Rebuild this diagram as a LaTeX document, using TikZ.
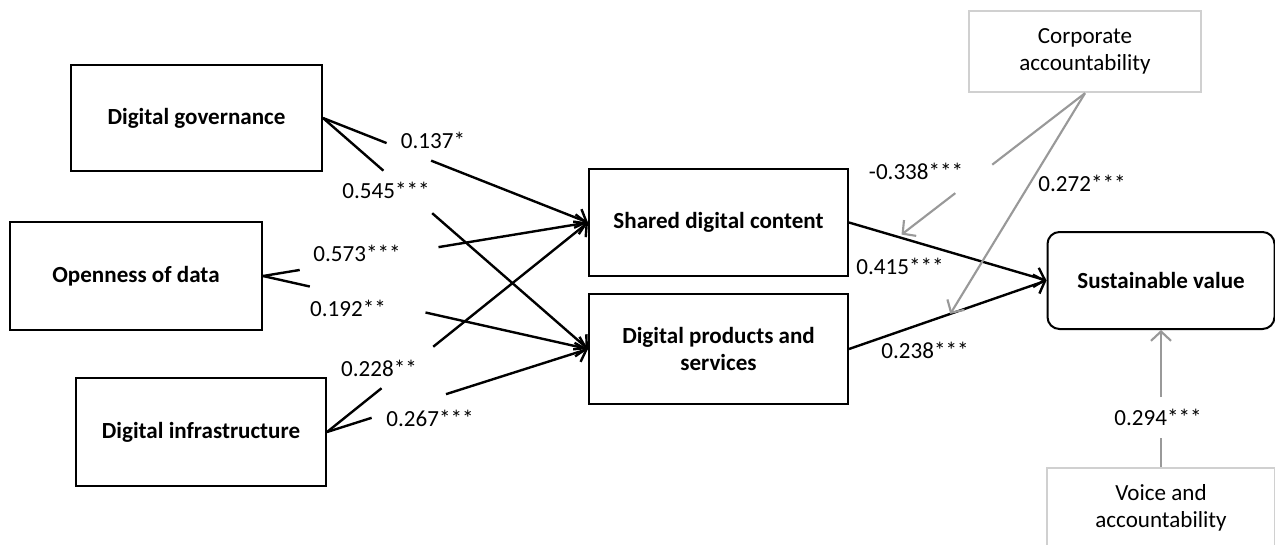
\documentclass[tikz,border=0pt]{standalone}
\usepackage{fontspec}
\setmainfont{Carlito}
\usetikzlibrary{arrows.meta}
\definecolor{boxgray}{HTML}{D0D0D0}
\definecolor{arrowgray}{HTML}{999999}
\begin{document}
\begin{tikzpicture}[x=0.75pt,y=-0.75pt,
  every node/.style={font=\fontsize{17.3}{20.5}\selectfont, inner sep=0pt},
  mainbox/.style={draw=black, line width=1.5pt, align=center, font=\fontsize{17.3}{20.5}\selectfont\bfseries},
  graybox/.style={draw=boxgray, line width=1.8pt, align=center, fill=white},
  blackline/.style={draw=black, line width=1.8pt},
  grayline/.style={draw=arrowgray, line width=1.6pt},
  arrowtip/.style={-{Straight Barb[length=7pt,width=15pt]}},
  coef/.style={font=\fontsize{17.3}{20}\selectfont}
]
\useasboundingbox (0,0) rectangle (1275,544);
\clip (0,0) rectangle (1275,544);

% boxes
\node[mainbox, minimum width=188.25pt, minimum height=79.5pt] (DG) at (196.5,118) {Digital governance};
\node[mainbox, minimum width=189pt, minimum height=81pt] (OD) at (136,276) {Openness of data};
\node[mainbox, minimum width=187.5pt, minimum height=81pt] (DI) at (201,432) {Digital infrastructure};
\node[mainbox, minimum width=194.25pt, minimum height=80.25pt] (SDC) at (718.5,222.5) {Shared digital content};
\node[mainbox, minimum width=194.25pt, minimum height=82.5pt] (DPS) at (718.5,349) {Digital products and\\services};
\node[mainbox, rounded corners=9pt, minimum width=170.25pt, minimum height=72.75pt] (SV) at (1161,280.5) {Sustainable value};
\node[graybox, minimum width=174pt, minimum height=60.75pt] (CA) at (1085,51.5) {Corporate\\accountability};
\node[graybox, minimum width=171pt, minimum height=60pt] (VA) at (1161,508) {Voice and\\accountability};

% DG -> SDC
\path (DG.east) -- (SDC.west) coordinate[pos=0.24] (a1) coordinate[pos=0.408] (a2);
\draw[blackline] (DG.east) -- (a1);
\draw[blackline, arrowtip] (a2) -- (SDC.west);
% DG -> DPS
\path (DG.east) -- (DPS.west) coordinate[pos=0.228] (b1) coordinate[pos=0.412] (b2);
\draw[blackline] (DG.east) -- (b1);
\draw[blackline, arrowtip] (b2) -- (DPS.west);
% OD -> SDC
\path (OD.east) -- (SDC.west) coordinate[pos=0.113] (c1) coordinate[pos=0.54] (c2);
\draw[blackline] (OD.east) -- (c1);
\draw[blackline, arrowtip] (c2) -- (SDC.west);
% OD -> DPS
\path (OD.east) -- (DPS.west) coordinate[pos=0.144] (d1) coordinate[pos=0.50] (d2);
\draw[blackline] (OD.east) -- (d1);
\draw[blackline, arrowtip] (d2) -- (DPS.west);
% DI -> SDC
\path (DI.east) -- (SDC.west) coordinate[pos=0.209] (e1) coordinate[pos=0.407] (e2);
\draw[blackline] (DI.east) -- (e1);
\draw[blackline, arrowtip] (e2) -- (SDC.west);
% DI -> DPS
\path (DI.east) -- (DPS.west) coordinate[pos=0.171] (f1) coordinate[pos=0.456] (f2);
\draw[blackline] (DI.east) -- (f1);
\draw[blackline, arrowtip] (f2) -- (DPS.west);
% to SV
\draw[blackline, arrowtip] (SDC.east) -- (SV.west);
\draw[blackline, arrowtip] (DPS.east) -- (SV.west);

% moderation targets
\path (SDC.east) -- (SV.west) coordinate[pos=0.25] (m1);
\path (DPS.east) -- (SV.west) coordinate[pos=0.513] (m2);
\path (CA.south) -- (m1) coordinate[pos=0.497] (h1) coordinate[pos=0.695] (h2);
\draw[grayline] (CA.south) -- (h1);
\draw[grayline, arrowtip, shorten >=3pt] (h2) -- (m1);
\draw[grayline, arrowtip] (CA.south) -- (m2);
\path (VA.north) -- (SV.south) coordinate[pos=0.209] (v1) coordinate[pos=0.51] (v2);
\draw[grayline] (VA.north) -- (v1);
\draw[grayline, arrowtip] (v2) -- (SV.south);

% coefficients
\node[coef] (l1) at (433,140) {0.137*};
\node[coef] (l2) at (386,190) {0.545***};
\node[coef] (l3) at (357,253) {0.573***};
\node[coef] (l4) at (348,308) {0.192**};
\node[coef] (l5) at (379,368) {0.228**};
\node[coef] (l6) at (430,418) {0.267***};
\node[coef] (l7) at (900,266) {0.415***};
\node[coef] (l8) at (925,350) {0.238***};
\node[coef] (l9) at (916,171) {-0.338***};
\node[coef] (l10) at (1082,183) {0.272***};
\node[coef] (l11) at (1158,417) {0.294***};
\end{tikzpicture}
\end{document}
